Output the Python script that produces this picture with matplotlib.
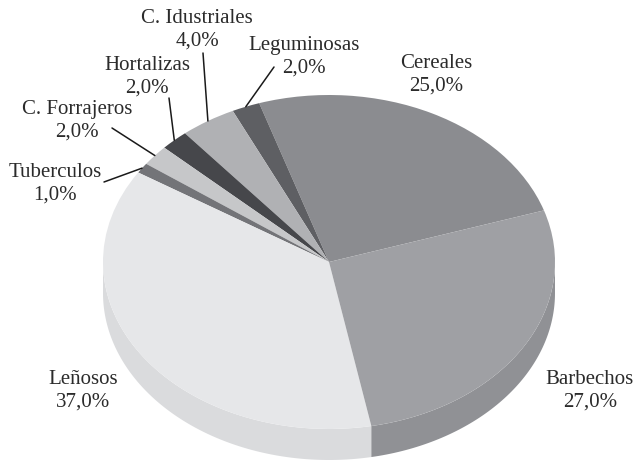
import numpy as np
import matplotlib.pyplot as plt
from matplotlib.patches import Polygon

labels = ['Cereales', 'Leguminosas', 'C. Idustriales', 'Hortalizas',
          'C. Forrajeros', 'Tuberculos', 'Leñosos', 'Barbechos']
values = [25.0, 2.0, 4.0, 2.0, 2.0, 1.0, 37.0, 27.0]

top_colors = ['#8b8c90', '#5e5f63', '#b0b1b4', '#46474b',
              '#c6c7c9', '#737478', '#e6e7e9', '#9fa0a4']
side_colors = ['#7d7e82', '#55565a', '#a0a1a4', '#3d3e42',
               '#b6b7b9', '#67686c', '#dadbdd', '#909195']

# pixel layout of the ellipse
W, H = 634, 465
cx, cy, rx, ry, depth = 329, 262, 226, 167, 31


def px(x, y):
    return (x - cx) / rx, (cy - y) / ry


# label centres (pixels) and start of the leader line (None = no line)
label_px = [(436, 75), (304, 57), (197, 30), (147, 77),
            (77, 121), (55, 184), (83, 391), (590, 391)]
leader_px = [None, (274, 67), (203, 53), (169, 98),
             (112, 128), (104, 182), None, None]

fig = plt.figure(figsize=(6.34, 4.65), dpi=100)
ax = fig.add_axes([0, 0, 1, 1])

wedges, _ = ax.pie(values, colors=top_colors, startangle=18,
                   counterclock=True, radius=1,
                   wedgeprops=dict(linewidth=0, zorder=2))

# visible side of the disc (front half only)
d = depth / ry
for w, c in zip(wedges, side_colors):
    a = max(w.theta1, 180)
    b = min(w.theta2, 360)
    if b <= a:
        continue
    t = np.radians(np.linspace(a, b, 80))
    top = np.column_stack([np.cos(t), np.sin(t)])
    bot = np.column_stack([np.cos(t), np.sin(t) - d])[::-1]
    ax.add_patch(Polygon(np.vstack([top, bot]), closed=True,
                         facecolor=c, edgecolor='none', zorder=1))

x0, _ = px(0, 0)
x1, _ = px(W, 0)
_, y0 = px(0, H)
_, y1 = px(0, 0)
ax.set_aspect('auto')
ax.set_xlim(x0, x1)
ax.set_ylim(y0, y1)
ax.axis('off')

font = dict(family='Liberation Serif', size=15, color='#2b2b2b',
            ha='center', va='center', linespacing=1.25)

for i, w in enumerate(wedges):
    txt = labels[i] + '\n' + f'{values[i]:.1f}'.replace('.', ',') + '%'
    pos = px(*label_px[i])
    ax.text(pos[0], pos[1], txt, zorder=3, **font)
    if leader_px[i] is not None:
        mid = np.radians((w.theta1 + w.theta2) / 2)
        tip = (np.cos(mid), np.sin(mid))
        ax.annotate('', xy=tip, xytext=px(*leader_px[i]), zorder=3,
                    arrowprops=dict(arrowstyle='-', color='#1a1a1a',
                                    lw=1.1, shrinkA=0, shrinkB=0))

fig.savefig('out.png', dpi=100)
